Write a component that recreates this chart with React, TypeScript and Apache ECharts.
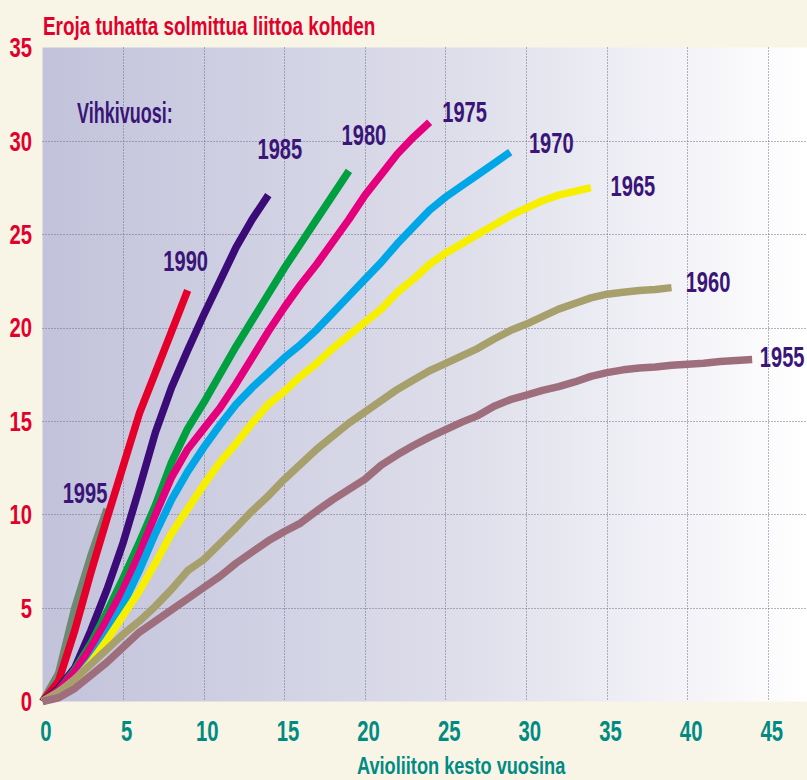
import React, { useEffect, useRef } from 'react';
import * as echarts from 'echarts';

// Divorces per thousand marriages by marriage duration (years), by wedding year cohort
const cohortNames = ['1995', '1990', '1985', '1980', '1975', '1970', '1965', '1960', '1955'];

const c1995 = [0, 1.5, 5.0, 7.8, 10.3];
const c1990 = [0, 1.1, 3.8, 6.9, 9.8, 12.6, 15.4, 17.6, 19.8, 22.0];
const c1985 = [0, 0.7, 1.8, 3.8, 6.0, 8.5, 11.4, 14.4, 16.8, 18.8, 20.7, 22.5, 24.3, 25.8, 27.1];
const c1980 = [0, 0.6, 1.7, 3.1, 4.8, 6.6, 8.5, 10.5, 12.8, 14.6, 16.0, 17.5, 19.0, 20.4, 21.8, 23.2, 24.5, 25.8, 27.1, 28.4];
const c1975 = [0, 0.6, 1.6, 2.9, 4.4, 6.0, 7.9, 10.0, 12.0, 13.5, 14.6, 15.7, 17.0, 18.4, 19.8, 21.1, 22.3, 23.4, 24.6, 25.8, 27.1, 28.2, 29.3, 30.2, 31.0];
const c1970 = [0, 0.4, 1.1, 2.2, 3.6, 5.2, 7.0, 9.0, 10.8, 12.3, 13.6, 14.8, 15.9, 16.8, 17.6, 18.4, 19.1, 19.9, 20.8, 21.7, 22.6, 23.5, 24.5, 25.4, 26.3, 27.0, 27.6, 28.2, 28.8, 29.4];
const c1965 = [0, 0.5, 1.1, 2.1, 3.3, 4.6, 5.9, 7.4, 9.0, 10.3, 11.6, 12.8, 13.8, 14.9, 15.9, 16.6, 17.4, 18.1, 18.9, 19.6, 20.3, 21.0, 21.9, 22.6, 23.4, 24.0, 24.5, 25.0, 25.5, 26.0, 26.4, 26.8, 27.1, 27.3, 27.5];
const c1960 = [0, 0.5, 1.2, 2.0, 2.8, 3.6, 4.3, 5.1, 6.0, 7.0, 7.6, 8.45, 9.3, 10.2, 11.0, 11.9, 12.7, 13.5, 14.2, 14.9, 15.5, 16.1, 16.7, 17.2, 17.7, 18.1, 18.5, 18.9, 19.4, 19.85, 20.2, 20.6, 21.0, 21.3, 21.6, 21.8, 21.9, 22.0, 22.05, 22.15];
const c1955 = [0, 0.2, 0.7, 1.4, 2.1, 2.9, 3.7, 4.3, 4.9, 5.5, 6.1, 6.7, 7.4, 8.0, 8.6, 9.1, 9.55, 10.2, 10.8, 11.35, 11.9, 12.65, 13.2, 13.7, 14.15, 14.55, 14.95, 15.3, 15.8, 16.15, 16.4, 16.65, 16.85, 17.1, 17.4, 17.6, 17.75, 17.85, 17.9, 18.0, 18.05, 18.1, 18.2, 18.25, 18.3];

const cohortValues = [c1995, c1990, c1985, c1980, c1975, c1970, c1965, c1960, c1955];

const xTickLabels = [0, 5, 10, 15, 20, 25, 30, 35, 40, 45];
const yTickLabels = [0, 5, 10, 15, 20, 25, 30, 35];

const titleText = 'Eroja tuhatta solmittua liittoa kohden';
const xAxisName = 'Avioliiton kesto vuosina';
const legendHeading = 'Vihkivuosi:';

// styles
const lineColors = ['#6f8a72', '#e4002b', '#3b0b78', '#00a040', '#e4007c', '#00a6e6', '#f6ef00', '#a7a06c', '#9f6e7d'];
const labelOffsets = [
  [-22, -17], [-2, -29.5], [11.5, -47], [15, -36], [35, -11], [41, -10], [42, -2], [36.5, -6], [30, -3],
];
const FONT = '"Liberation Sans", Arial, sans-serif';
const RED = '#e2002b';
const TEAL = '#008a82';
const LABEL = '#3a1577';

function txt(text: string, x: number, y: number, size: number, fill: string, align: string, scaleX: number) {
  return {
    type: 'text', x, y, scaleX, z: 20,
    style: {
      text, fill, fontFamily: FONT, fontSize: size, fontWeight: 'bold',
      align, verticalAlign: 'middle', textAlign: align, textVerticalAlign: 'middle',
    },
  };
}

export default function App() {
  const ref = useRef<HTMLDivElement>(null);
  useEffect(() => {
    const chart = echarts.init(ref.current!, null, { renderer: 'svg' });
    const gridLine = { show: true, lineStyle: { color: '#6c6c86', width: 1, type: [1, 2] as any } };
    chart.setOption({
      animation: false,
      backgroundColor: '#f8f5e7',
      grid: {
        left: 42.5, right: 0, top: 47.5, bottom: 78.5,
        show: true, borderWidth: 0,
        backgroundColor: new echarts.graphic.LinearGradient(0, 0, 1, 0, [
          { offset: 0, color: '#c2c3db' },
          { offset: 0.5, color: '#dbdbe9' },
          { offset: 1, color: '#ffffff' },
        ]),
      },
      xAxis: {
        type: 'value', min: 0, max: 47.4, interval: 5,
        axisLine: { show: false }, axisTick: { show: false },
        splitLine: { ...gridLine, showMinLine: false, showMaxLine: false },
        axisLabel: { show: false },
      },
      yAxis: {
        type: 'value', min: 0, max: 35, interval: 5,
        axisLine: { show: false }, axisTick: { show: false },
        splitLine: { ...gridLine, showMinLine: false, showMaxLine: false },
        axisLabel: { show: false },
      },
      series: cohortNames.map((name, i) => ({
        name,
        type: 'line',
        data: cohortValues[i].map((v, k) => [k, v]),
        showSymbol: false,
        symbol: 'none',
        lineStyle: { color: lineColors[i], width: 7.5, cap: 'butt', join: 'round' },
        z: 2 + i,
      })),
    });

    const px = (x: number, y: number) => chart.convertToPixel({ gridIndex: 0 }, [x, y]) as number[];

    const labels = cohortNames.map((name, i) => {
      const vals = cohortValues[i];
      const last = vals.length - 1;
      const p = px(last, vals[last]);
      return txt(name, p[0] + labelOffsets[i][0], p[1] + labelOffsets[i][1], 30, LABEL, 'center', 0.67);
    });
    const xTicks = xTickLabels.map((v) => {
      const p = px(v, 0);
      return txt(String(v), p[0] + 3.5, p[1] + 29, 29, TEAL, 'center', 0.7);
    });
    const yTicks = yTickLabels.map((v) => {
      const p = px(0, v);
      return txt(String(v), p[0] - 10.5, p[1], 27, RED, 'right', 0.75);
    });
    const hp = px(2.14, 31.5);
    chart.setOption({
      graphic: [
        ...labels,
        ...xTicks,
        ...yTicks,
        txt(legendHeading, hp[0], hp[1], 30, LABEL, 'left', 0.6),
        txt(titleText, 43, 27, 25, RED, 'left', 0.755),
        txt(xAxisName, 357, 765, 24.5, TEAL, 'left', 0.742),
      ],
    });
    return () => chart.dispose();
  }, []);
  return <div ref={ref} style={{ position: 'absolute', left: 0, top: 0, width: 807, height: 780 }} />;
}
